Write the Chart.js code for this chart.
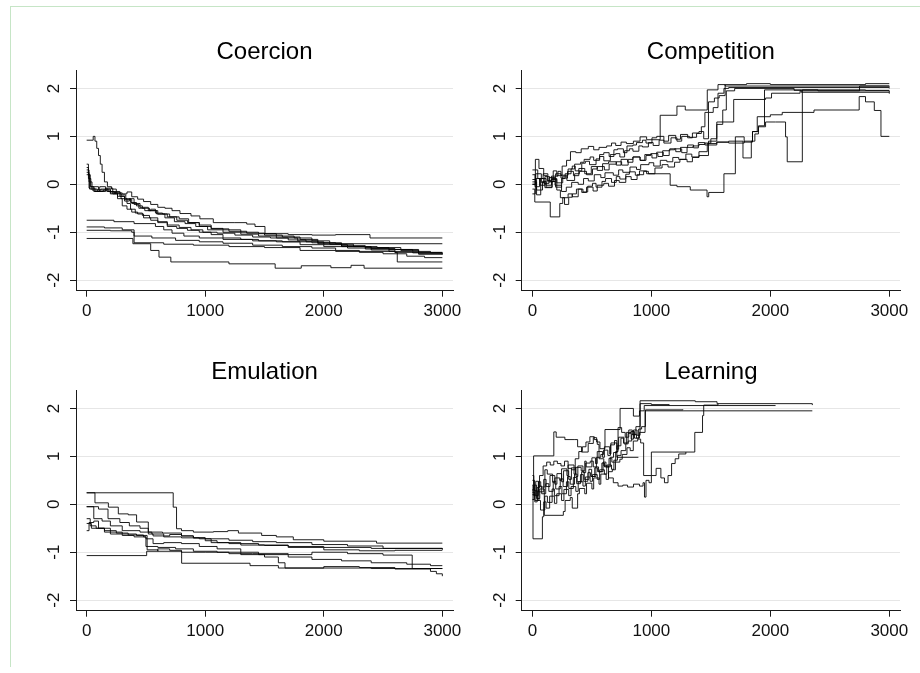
<!DOCTYPE html>
<html>
<head>
<meta charset="utf-8">
<script src="https://cdn.jsdelivr.net/npm/chart.js@4"></script>
<style>
  html, body { margin: 0; padding: 0; background: #fff; }
  body { width: 920px; height: 673px; overflow: hidden; position: relative; }
  .frame { position: absolute; left: 10px; top: 6px; width: 915px; height: 660px;
           border-top: 1px solid #c6e5c6; border-left: 1px solid #c6e5c6; }
  canvas { position: absolute; }
</style>
</head>
<body>
<div class="frame"></div>
<canvas id="c1" width="470" height="330" style="left:0px;top:0px"></canvas>
<canvas id="c2" width="460" height="330" style="left:460px;top:0px"></canvas>
<canvas id="c3" width="470" height="330" style="left:0px;top:320px"></canvas>
<canvas id="c4" width="460" height="330" style="left:460px;top:320px"></canvas>
<script>
// ---------- tick labels & titles ----------
const xTicks = [0, 1000, 2000, 3000];
const yTicks = [-2, -1, 0, 1, 2];
const panelTitles = ['Coercion', 'Competition', 'Emulation', 'Learning'];

// ---------- Coercion chains: [iteration, value] change points ----------
const coercion1 = [[0,0.92],[55,1.0],[70,0.9],[85,0.75],[100,0.6],[115,0.42],[130,0.25],[150,0.05],[175,-0.05],[210,-0.1],[250,-0.18],[290,-0.22],[330,-0.3],[370,-0.38],[420,-0.45],[470,-0.5],[530,-0.55],[600,-0.62],[680,-0.68],[760,-0.75],[850,-0.8],[950,-0.88],[1050,-0.93],[1200,-0.98],[1350,-1.02],[1500,-1.06],[1650,-1.1],[1800,-1.15],[1950,-1.22],[2150,-1.28],[2350,-1.32],[2550,-1.36],[2750,-1.4],[2900,-1.43],[3000,-1.43]];
const coercion2 = [[0,0.42],[15,0.2],[30,-0.05],[60,-0.15],[110,-0.05],[160,-0.1],[200,-0.2],[240,-0.15],[280,-0.25],[320,-0.35],[360,-0.3],[400,-0.42],[440,-0.5],[490,-0.55],[540,-0.52],[580,-0.6],[640,-0.62],[700,-0.68],[780,-0.72],[860,-0.8],[950,-0.85],[1050,-0.92],[1150,-0.95],[1300,-1.0],[1450,-1.03],[1600,-1.08],[1750,-1.12],[1900,-1.18],[2050,-1.25],[2250,-1.3],[2450,-1.32],[2650,-1.38],[2800,-1.44],[3000,-1.44]];
const coercion3 = [[0,0.3],[20,0.05],[45,-0.12],[120,-0.1],[180,-0.15],[230,-0.18],[300,-0.2],[340,-0.16],[380,-0.26],[430,-0.31],[480,-0.36],[540,-0.42],[600,-0.48],[660,-0.5],[720,-0.55],[787,-0.61],[880,-0.66],[955,-0.72],[1068,-0.8],[1250,-0.8],[1350,-0.83],[1420,-0.88],[1504,-1.03],[1700,-1.05],[1900,-1.06],[2100,-1.05],[2390,-1.12],[3000,-1.12]];
const coercion4 = [[0,0.2],[25,-0.1],[90,-0.15],[160,-0.08],[220,-0.2],[260,-0.3],[300,-0.45],[340,-0.52],[380,-0.58],[430,-0.62],[480,-0.7],[540,-0.75],[600,-0.8],[680,-0.88],[760,-0.92],[850,-0.96],[950,-1.0],[1050,-1.05],[1150,-1.12],[1300,-1.15],[1450,-1.18],[1600,-1.2],[1800,-1.26],[2000,-1.3],[2200,-1.33],[2400,-1.37],[2600,-1.42],[2800,-1.46],[3000,-1.47]];
const coercion5 = [[0,0.35],[15,0.12],[35,-0.05],[100,-0.12],[170,-0.15],[240,-0.2],[290,-0.3],[340,-0.4],[370,-0.52],[410,-0.6],[470,-0.65],[530,-0.7],[600,-0.78],[680,-0.85],[780,-0.9],[880,-0.95],[980,-1.0],[1100,-1.02],[1250,-1.06],[1400,-1.1],[1550,-1.12],[1700,-1.16],[1850,-1.2],[2000,-1.26],[2200,-1.3],[2400,-1.34],[2600,-1.36],[2800,-1.42],[3000,-1.42]];
const coercion6 = [[0,0.25],[20,-0.08],[70,-0.15],[140,-0.12],[200,-0.18],[260,-0.25],[320,-0.32],[380,-0.4],[450,-0.48],[520,-0.55],[590,-0.62],[660,-0.7],[740,-0.78],[830,-0.82],[920,-0.88],[1020,-0.95],[1150,-1.0],[1300,-1.04],[1450,-1.08],[1600,-1.12],[1780,-1.18],[1950,-1.24],[2150,-1.3],[2350,-1.35],[2550,-1.4],[2750,-1.43],[3000,-1.46]];
const coercion7 = [[0,-0.75],[230,-0.78],[400,-0.82],[580,-0.88],[650,-0.95],[720,-1.02],[820,-1.08],[950,-1.12],[1150,-1.15],[1400,-1.18],[1650,-1.2],[1900,-1.22],[2100,-1.24],[3000,-1.24]];
const coercion8 = [[0,-0.89],[150,-0.91],[300,-0.95],[400,-1.08],[550,-1.12],[750,-1.17],[950,-1.2],[1150,-1.23],[1400,-1.27],[1650,-1.3],[1900,-1.33],[2100,-1.38],[2300,-1.42],[2500,-1.45],[2700,-1.5],[2850,-1.53],[3000,-1.53]];
const coercion9 = [[0,-0.96],[200,-0.97],[380,-1.0],[400,-1.22],[650,-1.25],[900,-1.27],[1200,-1.3],[1500,-1.32],[1800,-1.38],[2100,-1.4],[2600,-1.42],[2620,-1.62],[3000,-1.62]];
const coercion10 = [[0,-1.13],[390,-1.24],[540,-1.38],[610,-1.52],[710,-1.62],[1200,-1.66],[1590,-1.75],[1810,-1.7],[2060,-1.74],[2230,-1.69],[2340,-1.75],[3000,-1.75]];

// ---------- Competition chains ----------
const competition1 = [[0,-0.1],[20,-0.37],[150,-0.68],[230,-0.4],[255,-0.28],[300,-0.2],[335,-0.26],[385,-0.1],[425,-0.16],[465,-0.04],[505,0.02],[535,-0.06],[585,0.06],[615,0.12],[665,0.04],[705,0.16],[735,0.11],[785,0.21],[815,0.26],[865,0.19],[900,0.28],[960,0.22],[1158,-0.02],[1215,-0.05],[1327,-0.12],[1468,-0.26],[1482,-0.17],[1610,0.22],[1706,0.99],[1780,0.88],[1850,1.1],[1890,1.41],[2000,1.45],[2100,1.5],[2367,1.55],[2747,1.83],[2800,1.72],[2874,1.54],[2930,1.0],[3000,1.0]];
const competition2 = [[0,0.0],[25,0.3],[45,0.12],[90,0.22],[130,0.05],[175,0.28],[205,0.18],[250,0.38],[287,0.5],[320,0.68],[365,0.66],[410,0.74],[470,0.79],[515,0.72],[560,0.77],[624,0.8],[665,0.86],[700,0.81],[745,0.88],[790,0.85],[849,0.9],[905,0.99],[960,0.93],[1074,1.44],[1215,1.63],[1285,1.55],[1453,1.55],[1470,1.97],[1560,2.08],[1620,2.05],[3000,2.05]];
const competition3 = [[0,0.2],[22,-0.05],[60,0.12],[95,0.02],[140,0.14],[190,-0.02],[245,-0.15],[285,-0.06],[330,0.04],[385,0.0],[430,0.12],[470,0.07],[520,0.2],[575,0.14],[610,0.24],[680,0.19],[725,0.3],[760,0.25],[820,0.36],[875,0.31],[910,0.41],[980,0.45],[1020,0.38],[1075,0.5],[1130,0.47],[1180,0.56],[1230,0.52],[1290,0.63],[1340,0.57],[1400,0.68],[1470,0.85],[1550,0.88],[1650,0.86],[1780,0.9],[1850,1.1],[1900,1.2],[1960,1.3],[2044,1.3],[2128,0.99],[2142,0.47],[2269,1.97],[2800,1.96],[3000,1.96]];
const competition4 = [[0,0.05],[35,-0.22],[70,0.12],[115,-0.02],[160,0.1],[205,-0.12],[235,-0.28],[270,-0.42],[305,-0.27],[335,-0.2],[370,-0.1],[415,-0.17],[455,-0.06],[510,-0.14],[545,-0.02],[600,0.02],[640,-0.04],[690,0.08],[730,0.04],[785,0.16],[830,0.1],[880,0.2],[935,0.27],[975,0.22],[1030,0.34],[1090,0.41],[1140,0.36],[1195,0.46],[1240,0.52],[1300,0.47],[1345,0.56],[1400,0.6],[1480,0.9],[1550,1.3],[1600,1.55],[1630,1.95],[1700,2.0],[2200,1.96],[2260,1.92],[3000,1.92]];
const competition5 = [[0,0.3],[25,0.52],[55,0.33],[95,0.18],[125,0.08],[160,0.17],[215,0.27],[240,0.19],[300,0.32],[335,0.38],[360,0.28],[415,0.44],[445,0.48],[480,0.41],[535,0.53],[565,0.58],[600,0.49],[655,0.62],[700,0.64],[735,0.57],[775,0.7],[815,0.74],[845,0.69],[895,0.8],[925,0.78],[975,0.87],[1015,0.81],[1065,0.92],[1105,0.86],[1165,0.97],[1215,0.9],[1255,1.0],[1320,0.98],[1380,1.06],[1420,1.2],[1450,1.5],[1480,1.72],[1530,1.8],[1570,1.85],[1620,2.08],[1800,2.1],[2000,2.08],[2800,2.1],[3000,2.1]];
const competition6 = [[0,-0.2],[25,0.12],[65,-0.02],[105,0.16],[145,0.06],[195,0.22],[240,0.13],[295,0.27],[345,0.18],[390,0.33],[440,0.22],[495,0.37],[545,0.29],[590,0.43],[640,0.47],[705,0.4],[745,0.52],[800,0.46],[845,0.57],[905,0.5],[945,0.62],[1005,0.55],[1045,0.67],[1100,0.6],[1150,0.72],[1195,0.74],[1255,0.66],[1300,0.77],[1350,0.8],[1400,0.83],[1450,0.86],[1500,0.95],[1550,1.25],[1600,1.3],[1692,1.77],[1960,1.8],[2010,1.9],[2250,1.95],[3000,1.89]];
const competition7 = [[0,0.1],[35,-0.12],[85,0.06],[115,-0.06],[165,0.12],[205,0.03],[255,0.17],[290,0.08],[355,0.22],[395,0.27],[455,0.2],[505,0.32],[545,0.37],[605,0.3],[645,0.42],[705,0.47],[750,0.4],[805,0.52],[845,0.57],[905,0.5],[955,0.6],[995,0.64],[1055,0.58],[1095,0.7],[1155,0.74],[1205,0.68],[1245,0.77],[1305,0.82],[1355,0.76],[1395,0.87],[1450,0.82],[1550,0.88],[1650,0.9],[1770,0.55],[1840,0.9],[1870,1.05],[1900,1.22],[1951,1.97],[2400,1.95],[2750,2.05],[3000,2.04]];
const competition8 = [[0,0.0],[28,0.22],[75,0.04],[105,-0.07],[165,0.06],[195,-0.06],[245,0.12],[275,0.22],[325,0.32],[355,0.42],[405,0.46],[435,0.52],[485,0.57],[515,0.5],[565,0.62],[600,0.66],[645,0.58],[685,0.72],[715,0.74],[765,0.66],[795,0.8],[845,0.82],[875,0.87],[925,0.92],[955,0.86],[1005,0.97],[1045,1.0],[1105,0.9],[1145,1.02],[1205,0.94],[1245,1.04],[1305,0.97],[1345,1.07],[1400,1.1],[1440,0.95],[1480,1.5],[1520,1.6],[1560,1.9],[1610,2.0],[1650,2.02],[3000,2.0]];

// ---------- Emulation chains ----------
const emulation1 = [[0,0.24],[730,-0.06],[758,-0.51],[800,-0.55],[900,-0.58],[1070,-0.57],[1190,-0.55],[1280,-0.6],[1476,-0.65],[1600,-0.68],[1743,-0.74],[2000,-0.77],[2445,-0.81],[3000,-0.81]];
const emulation2 = [[0,0.24],[70,0.03],[183,-0.06],[267,-0.2],[351,-0.22],[421,-0.37],[520,-0.58],[640,-0.6],[800,-0.66],[900,-0.7],[1000,-0.72],[1200,-0.75],[1400,-0.78],[1600,-0.8],[1900,-0.84],[2200,-0.87],[2500,-0.92],[3000,-0.93]];
const emulation3 = [[0,-0.05],[100,-0.1],[180,-0.3],[280,-0.38],[360,-0.45],[450,-0.5],[520,-0.62],[560,-0.66],[700,-0.63],[800,-0.66],[900,-0.7],[1000,-0.76],[1100,-0.8],[1300,-0.85],[1500,-0.86],[1700,-0.9],[2000,-0.95],[2300,-0.97],[2600,-0.96],[3000,-0.96]];
const emulation4 = [[0,-0.55],[20,-0.38],[60,-0.35],[100,-0.5],[200,-0.62],[300,-0.65],[400,-0.68],[500,-0.72],[560,-0.82],[650,-0.8],[800,-0.82],[950,-0.88],[1100,-0.93],[1300,-1.0],[1450,-1.05],[1700,-1.1],[1900,-1.15],[2150,-1.18],[2400,-1.22],[2700,-1.25],[2900,-1.28],[3000,-1.28]];
const emulation5 = [[0,-1.07],[506,-0.98],[600,-0.93],[700,-0.96],[800,-1.0],[1000,-1.0],[1200,-1.03],[1400,-1.03],[1700,-1.05],[1900,-1.0],[2200,-1.03],[2500,-1.06],[2746,-1.34],[3000,-1.34]];
const emulation6 = [[0,-0.3],[30,-0.45],[80,-0.5],[150,-0.55],[250,-0.6],[350,-0.64],[480,-0.68],[500,-0.88],[600,-0.9],[750,-0.93],[900,-0.98],[1100,-1.0],[1300,-1.05],[1500,-1.1],[1617,-1.22],[1673,-1.33],[2400,-1.34],[3000,-1.34]];
const emulation7 = [[0,-0.4],[40,-0.5],[150,-0.58],[300,-0.62],[420,-0.65],[510,-0.95],[600,-0.98],[801,-1.23],[1378,-1.28],[1617,-1.33],[2000,-1.3],[2300,-1.32],[2600,-1.35],[2900,-1.4],[2950,-1.45],[3000,-1.5]];
const emulation8 = [[0,-0.05],[60,-0.3],[130,-0.35],[200,-0.45],[300,-0.55],[450,-0.58],[550,-0.62],[650,-0.68],[800,-0.7],[950,-0.72],[1050,-0.8],[1200,-0.82],[1450,-0.85],[1700,-0.88],[2000,-0.9],[2400,-0.92],[3000,-0.95]];

// ---------- Learning chains (chains of unequal length) ----------
const learning1 = [[0,0.4],[5,-0.72],[84,-0.26],[95,0.05],[115,-0.08],[145,0.17],[185,0.02],[205,0.22],[245,0.08],[265,0.31],[305,0.18],[325,0.37],[365,0.27],[385,0.47],[425,0.38],[445,0.57],[485,0.48],[505,0.62],[545,0.52],[565,0.72],[605,0.63],[625,0.82],[665,0.73],[685,0.92],[715,1.02],[745,1.12],[785,1.26],[805,1.32],[835,1.46],[875,1.38],[900,1.5],[947,1.95],[2353,1.95]];
const learning2 = [[0,0.3],[10,1.01],[180,1.51],[200,1.4],[273,1.35],[357,1.35],[380,1.2],[413,1.09],[469,1.27],[512,1.39],[540,1.3],[568,1.16],[610,1.56],[737,2.0],[849,1.84],[900,1.95],[940,2.06],[2044,2.06]];
const learning3 = [[0,0.25],[20,0.05],[40,0.35],[60,0.6],[90,0.8],[120,0.88],[150,0.82],[180,0.9],[210,0.85],[240,0.8],[270,0.9],[300,0.75],[330,0.72],[360,0.95],[390,1.1],[420,1.2],[450,1.3],[483,1.41],[520,1.35],[545,1.25],[560,0.95],[600,0.8],[640,0.55],[680,0.45],[720,0.38],[760,0.4],[800,0.36],[850,0.42],[900,0.38],[930,0.45],[942,0.15],[955,0.5],[980,0.45],[1000,0.6],[1040,0.75],[1080,0.55],[1110,0.45],[1140,0.6],[1170,0.85],[1200,0.95],[1230,1.05],[1290,1.09]];
const learning4 = [[0,0.6],[12,0.18],[50,0.47],[70,0.36],[105,0.72],[125,0.63],[170,0.46],[190,0.55],[230,0.5],[245,0.74],[290,0.6],[300,0.82],[350,0.63],[362,0.77],[410,0.7],[440,0.9],[452,0.78],[500,0.97],[530,0.85],[545,1.1],[590,0.98],[605,1.2],[650,1.05],[660,1.28],[710,1.15],[725,1.4],[770,1.26],[790,1.5],[830,1.36],[850,1.55],[880,1.44],[905,2.16],[1369,2.14],[1552,2.1],[2353,2.07]];
const learning5 = [[0,0.1],[15,0.4],[35,0.12],[62,0.32],[100,-0.23],[260,-0.15],[275,0.08],[318,0.14],[335,-0.08],[380,0.22],[395,0.33],[440,0.22],[455,0.44],[500,0.32],[515,0.55],[560,0.42],[575,0.63],[620,0.52],[640,0.68],[672,0.72],[698,0.88],[735,0.94],[755,1.04],[795,1.18],[822,1.12],[848,1.32],[885,1.36],[910,1.28],[935,0.6],[1000,1.09],[1365,1.5],[1430,1.85],[1440,2.07],[1560,2.1]];
const learning6 = [[0,0.2],[28,0.48],[52,0.26],[95,0.52],[115,0.37],[148,0.6],[188,0.42],[206,0.64],[246,0.47],[262,0.7],[305,0.52],[328,0.76],[366,0.58],[382,0.8],[425,0.66],[448,0.86],[486,0.9],[512,0.78],[538,0.98],[575,1.04],[598,1.13],[634,1.02],[656,1.24],[690,1.33],[710,0.98],[891,0.98]];
const learning7 = [[0,0.3],[22,0.08],[55,0.38],[78,0.22],[112,0.43],[138,0.27],[175,0.48],[196,0.32],[234,0.53],[258,0.37],[295,0.58],[318,0.42],[354,0.63],[376,0.47],[414,0.68],[436,0.52],[475,0.73],[498,0.58],[534,0.78],[556,0.68],[594,0.88],[618,0.78],[655,0.98],[682,1.08],[712,1.22],[744,1.38],[766,1.28],[804,1.48],[828,1.52],[858,1.38],[893,1.57],[918,1.62],[950,1.97],[1265,1.98]];
const learning8 = [[0,0.5],[18,0.28],[44,0.08],[68,-0.12],[104,0.17],[126,0.04],[166,0.32],[185,0.18],[224,0.37],[248,0.22],[286,0.47],[306,0.33],[344,0.56],[372,0.43],[404,0.62],[428,0.48],[466,0.66],[488,0.58],[524,0.76],[548,0.68],[584,0.86],[606,0.78],[644,0.96],[668,0.88],[700,1.1],[720,1.6],[750,1.5],[780,1.4],[810,1.55],[840,1.45],[870,1.62],[905,2.1],[1000,2.08],[1150,2.06]];

const coercionChains = [coercion1, coercion2, coercion3, coercion4, coercion5, coercion6, coercion7, coercion8, coercion9, coercion10];
const competitionChains = [competition1, competition2, competition3, competition4, competition5, competition6, competition7, competition8];
const emulationChains = [emulation1, emulation2, emulation3, emulation4, emulation5, emulation6, emulation7, emulation8];
const learningChains = [learning1, learning2, learning3, learning4, learning5, learning6, learning7, learning8];

// ---------- drawing ----------
const FONT = "'Liberation Sans', Arial, Helvetica, sans-serif";
const INK = '#1a1a1a';

function makePanel(canvasId, title, chains, yAxisWidth, rightPad) {
  const datasets = chains.map(c => ({
    data: c,
    stepped: 'before',
    borderColor: 'rgba(0,0,0,0.88)',
    borderWidth: 1,
    pointRadius: 0,
    fill: false,
    tension: 0
  }));
  return new Chart(document.getElementById(canvasId), {
    type: 'line',
    data: { datasets },
    options: {
      responsive: false,
      animation: false,
      events: [],
      layout: { padding: { left: 0, right: rightPad, top: 0, bottom: 0 } },
      plugins: {
        legend: { display: false },
        tooltip: { enabled: false },
        title: {
          display: true, fullSize: false, text: title, color: '#000',
          font: { family: FONT, size: 24, weight: 'normal', lineHeight: 1.2 },
          padding: { top: 37.6, bottom: 4.3 }
        }
      },
      scales: {
        x: {
          type: 'linear', min: -90, max: 3090,
          afterBuildTicks: s => { s.ticks = xTicks.map(v => ({ value: v })); },
          afterFit: s => { s.height = 39.3; },
          grid: { drawOnChartArea: false, drawTicks: true, tickLength: 6, tickColor: INK, tickWidth: 1 },
          border: { display: true, color: INK, width: 1 },
          ticks: { color: '#111', font: { family: FONT, size: 17 }, padding: 4, maxRotation: 0, autoSkip: false,
                   callback: v => String(v) }
        },
        y: {
          type: 'linear', min: -2.22, max: 2.37,
          afterBuildTicks: s => { s.ticks = yTicks.map(v => ({ value: v })); },
          afterFit: s => { s.width = yAxisWidth; },
          grid: { color: '#e6e6e6', lineWidth: 1, drawTicks: true, tickLength: 6, tickColor: INK, tickWidth: 1 },
          border: { display: true, color: INK, width: 1 },
          ticks: { color: '#111', font: { family: FONT, size: 17 }, padding: 8, minRotation: 90, maxRotation: 90,
                   crossAlign: 'center', autoSkip: false, callback: v => String(v) }
        }
      }
    }
  });
}

makePanel('c1', panelTitles[0], coercionChains, 76, 17);
makePanel('c2', panelTitles[1], competitionChains, 61.7, 20);
makePanel('c3', panelTitles[2], emulationChains, 76, 17);
makePanel('c4', panelTitles[3], learningChains, 61.7, 20);
</script>
</body>
</html>
